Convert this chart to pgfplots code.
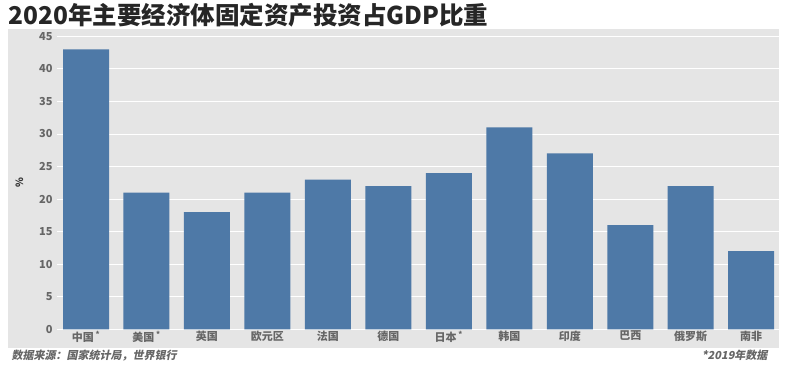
\documentclass[border=0pt]{standalone}
\usepackage{pgfplots}
\pgfplotsset{compat=1.18}
\usepackage{fontspec}
\setmainfont{Noto Sans CJK SC}
\newfontfamily\cjkit{Noto Sans CJK SC}[FakeSlant=0.2]
\definecolor{panel}{HTML}{E5E5E5}
\definecolor{barblue}{HTML}{4E79A7}
\definecolor{lab}{HTML}{666666}
\begin{document}
\begin{tikzpicture}
\fill[white] (0pt,0pt) rectangle (789pt,-367pt);
\fill[panel] (8pt,-28pt) rectangle (779pt,-347pt);
\node[anchor=west,font=\bfseries\fontsize{24.5}{24.5}\selectfont,text=black!85] at (5pt,-14pt) {2020年主要经济体固定资产投资占GDP比重};
\begin{axis}[
  at={(57pt,-328pt)}, anchor=south west,
  scale only axis, width=722pt, height=300pt,
  xmin=-0.48, xmax=11.46, ymin=0, ymax=46.07,
  axis line style={draw=none},
  tick style={draw=none},
  ytick={0,5,...,45},
  xtick={0,...,11},
  xticklabels={中国\,\textsuperscript{*},美国\,\textsuperscript{*},英国,欧元区,法国,德国,日本\,\textsuperscript{*},韩国,印度,巴西,俄罗斯,南非},
  ymajorgrids, grid style={white, line width=0.7pt},
  /pgf/number format/assume math mode=true,
  tick label style={font=\bfseries\fontsize{11}{11}\selectfont, text=lab},
  xticklabel style={yshift=2pt},
  yticklabel style={xshift=-1pt},
  ylabel={\%}, ylabel style={font=\bfseries\fontsize{10}{10}\selectfont, text=black!80, at={(axis description cs:-0.052,0.49)}, anchor=center},
  clip=false,
]
\addplot[ybar, bar width=46pt, fill=barblue, draw=none] coordinates {
(0,43) (1,21) (2,18) (3,21) (4,23) (5,22) (6,24) (7,31) (8,27) (9,16) (10,22) (11,12)};
\end{axis}
\node[anchor=west,font=\cjkit\bfseries\fontsize{11}{11}\selectfont,text=lab] at (8pt,-354pt) {数据来源：国家统计局，世界银行};
\node[anchor=east,font=\cjkit\bfseries\fontsize{11}{11}\selectfont,text=lab] at (771pt,-354pt) {*2019年数据};
\end{tikzpicture}
\end{document}
